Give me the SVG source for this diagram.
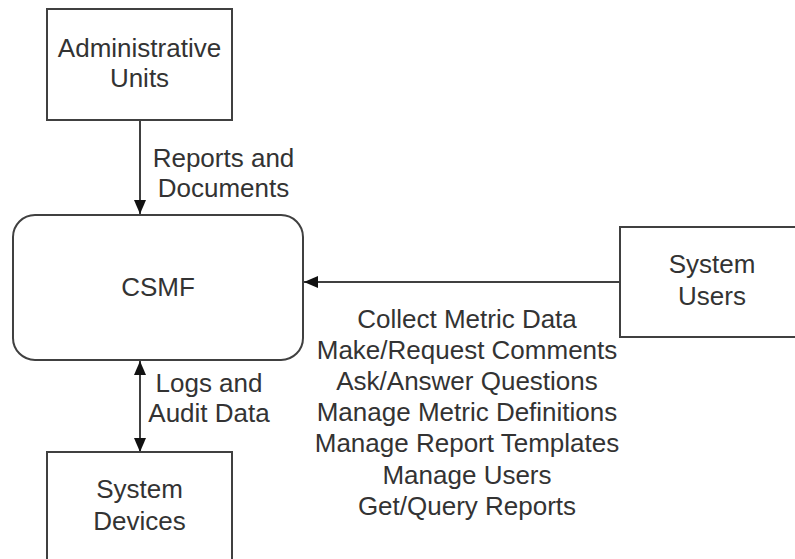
<svg xmlns="http://www.w3.org/2000/svg" width="795" height="559" viewBox="0 0 795 559">
<style>
.box{fill:#fff;stroke:#404040;stroke-width:2}
.t{font-family:"Liberation Sans",Arial,sans-serif;font-size:26px;fill:#333;text-anchor:middle}
.c{stroke:#404040;stroke-width:2;fill:none}
</style>
<defs>
<marker id="ah" viewBox="0 0 14 12" refX="14" refY="6" markerWidth="14" markerHeight="12" markerUnits="userSpaceOnUse" orient="auto-start-reverse">
<path d="M0,0 L14,6 L0,12 z" fill="#111"/>
</marker>
</defs>
<rect width="795" height="559" fill="#fff"/>
<g id="connectors">
<line class="c" x1="140" y1="120" x2="140" y2="214" marker-end="url(#ah)"/>
<line class="c" x1="140" y1="361" x2="140" y2="452" marker-start="url(#ah)" marker-end="url(#ah)"/>
<line class="c" x1="620" y1="282" x2="304" y2="282" marker-end="url(#ah)"/>
<text class="t" x="223.5" y="167">Reports and</text>
<text class="t" x="223.5" y="197">Documents</text>
<text class="t" x="209" y="392">Logs and</text>
<text class="t" x="209" y="422">Audit Data</text>
<text class="t" x="467" y="328">Collect Metric Data</text>
<text class="t" x="467" y="359">Make/Request Comments</text>
<text class="t" x="467" y="390">Ask/Answer Questions</text>
<text class="t" x="467" y="421">Manage Metric Definitions</text>
<text class="t" x="467" y="452">Manage Report Templates</text>
<text class="t" x="467" y="484">Manage Users</text>
<text class="t" x="467" y="515">Get/Query Reports</text>
</g>
<g id="admin-units">
<rect class="box" x="47" y="9" width="185" height="111"/>
<text class="t" x="139.5" y="57">Administrative</text>
<text class="t" x="139.5" y="87">Units</text>
</g>
<g id="csmf">
<rect class="box" x="13" y="215" width="290" height="145" rx="22" ry="22"/>
<text class="t" x="158" y="296">CSMF</text>
</g>
<g id="system-users">
<rect class="box" x="620" y="227" width="190" height="110"/>
<text class="t" x="712" y="273">System</text>
<text class="t" x="712" y="305">Users</text>
</g>
<g id="system-devices">
<rect class="box" x="47" y="452" width="185" height="120"/>
<text class="t" x="139.5" y="498">System</text>
<text class="t" x="139.5" y="530">Devices</text>
</g>
</svg>
